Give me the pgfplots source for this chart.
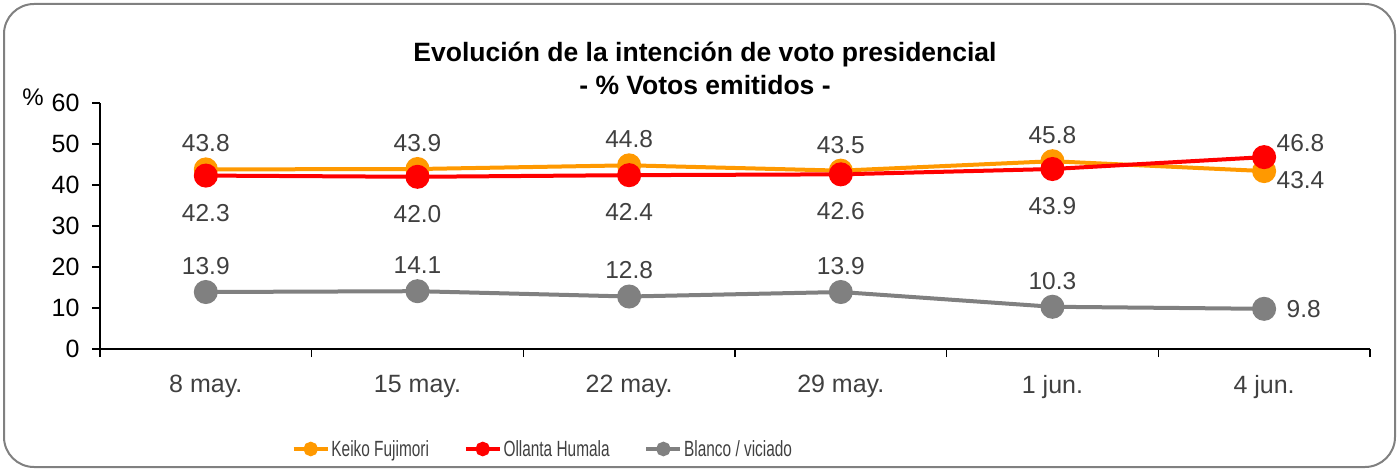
\documentclass[border=0pt]{standalone}
\usepackage{fontspec}
\setmainfont{Liberation Sans}
\usepackage{graphicx}
\usepackage{pgfplots}
\usepackage{pgfplotstable}
\pgfplotsset{compat=1.18}
\definecolor{cKeiko}{HTML}{FF9900}
\definecolor{cOll}{HTML}{FF0000}
\definecolor{cBla}{HTML}{808080}
\definecolor{txt}{HTML}{404040}
\pgfplotstableread{
x y
0 43.8
1 43.9
2 44.8
3 43.5
4 45.8
5 43.4
}\keiko
\pgfplotstableread{
x y
0 42.3
1 42.0
2 42.4
3 42.6
4 43.9
5 46.8
}\ollanta
\pgfplotstableread{
x y
0 13.9
1 14.1
2 12.8
3 13.9
4 10.3
5 9.8
}\blanco
\pgfplotsset{/pgf/number format/assume math mode=true}
\newcommand{\leg}[1]{\scalebox{0.70}[1]{#1}}
\begin{document}
\begin{tikzpicture}
\useasboundingbox (0pt,0pt) rectangle (1399pt,471pt);
\draw[cBla, line width=2pt, rounded corners=30pt] (4pt,4pt) rectangle (1395pt,467pt);
\node[font=\bfseries\fontsize{26.5}{33}\selectfont, align=center, text=black] at (705pt,403pt) {Evolución de la intención de voto presidencial\\- \% Votos emitidos -};
\node[font=\fontsize{24}{24}\selectfont, text=black] at (33pt,374pt) {\%};
\begin{axis}[
  at={(100pt,122pt)}, anchor=south west,
  scale only axis, width=1270pt, height=246pt,
  xmin=-0.5, xmax=5.5, ymin=0, ymax=60,
  axis x line*=bottom, axis y line*=left,
  axis line style={-, line width=1.5pt, black},
  tick align=outside, major tick length=8pt,
  every tick/.style={black, line width=1.5pt},
  xtick={-0.5,0.5,...,5.5},
  x tick label as interval,
  xticklabels={8 may.,15 may.,22 may.,29 may.,1 jun.,4 jun.},
  ytick={0,10,...,60},
  tick label style={font=\fontsize{25}{26}\selectfont, text=txt},
  yticklabel style={text=black, xshift=-9pt},
  xticklabel style={yshift=-15pt},
  clip=false,
  legend style={at={(0.151,-0.4065)}, anchor=west, draw=none, fill=none,
     font=\fontsize{22}{22}\selectfont, text=txt,
     /tikz/every even column/.append style={column sep=33pt},
     inner sep=0pt},
  legend columns=3,
  legend cell align=left,
  legend image code/.code={\draw[mark repeat=2,mark phase=2,#1,mark size=5.5pt, line width=3.5pt] plot coordinates {(0pt,0pt)(17pt,0pt)(34pt,0pt)};},
  every node near coord/.append style={font=\fontsize{24.5}{26}\selectfont, text=txt, anchor=center},
  lbl/.style={draw=none, mark=none, forget plot, nodes near coords={\pgfmathprintnumber[fixed,fixed zerofill,precision=1]{\pgfplotspointmeta}}},
]
\addplot[cKeiko, line width=4pt, mark=*, mark size=10pt, mark options={fill=cKeiko, draw=cKeiko}] table {\keiko};
\addlegendentry{\leg{Keiko Fujimori}}
\addplot[cOll, line width=4pt, mark=*, mark size=10pt, mark options={fill=cOll, draw=cOll}] table {\ollanta};
\addlegendentry{\leg{Ollanta Humala}}
\addplot[cBla, line width=4pt, mark=*, mark size=10pt, mark options={fill=cBla, draw=cBla}] table {\blanco};
\addlegendentry{\leg{Blanco / viciado}}
% labels
\addplot[lbl, restrict x to domain=0:4, every node near coord/.append style={yshift=26pt}] table {\keiko};
\addplot[lbl, restrict x to domain=5:5, every node near coord/.append style={anchor=west, xshift=9pt, yshift=-9pt}] table {\keiko};
\addplot[lbl, restrict x to domain=0:4, every node near coord/.append style={yshift=-37pt}] table {\ollanta};
\addplot[lbl, restrict x to domain=5:5, every node near coord/.append style={anchor=west, xshift=9pt, yshift=14pt}] table {\ollanta};
\addplot[lbl, restrict x to domain=0:4, every node near coord/.append style={yshift=26pt}] table {\blanco};
\addplot[lbl, restrict x to domain=5:5, every node near coord/.append style={anchor=west, xshift=19pt}] table {\blanco};
\end{axis}
\end{tikzpicture}
\end{document}
